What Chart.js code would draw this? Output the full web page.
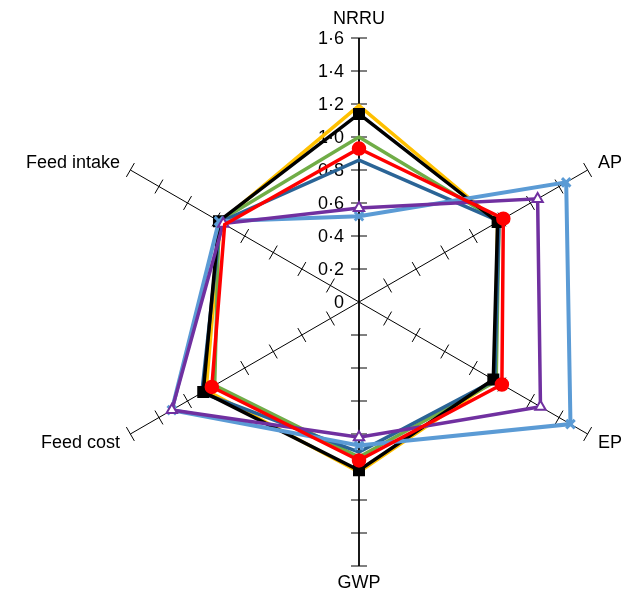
<!DOCTYPE html>
<html>
<head>
<meta charset="utf-8">
<title>Radar chart</title>
<script src="https://cdn.jsdelivr.net/npm/chart.js@4/dist/chart.umd.min.js"></script>
<style>
  html, body { margin: 0; padding: 0; background: #fff; }
  #wrap { width: 630px; height: 594px; position: relative; }
</style>
</head>
<body>
<div id="wrap"><canvas id="radarChart"></canvas></div>
<script>
/* ========= DATA ========= */

const axisLabels = ["NRRU", "AP", "EP", "GWP", "Feed cost", "Feed intake"];
const tickValues = [0, 0.2, 0.4, 0.6, 0.8, 1.0, 1.2, 1.4, 1.6];

const redValues       = [0.93, 1.01, 1.00, 0.96, 1.03, 0.94];
const purpleValues    = [0.57, 1.25, 1.27, 0.82, 1.31, 0.95];
const lightBlueValues = [0.52, 1.45, 1.48, 0.87, 1.31, 0.98];
const blackValues     = [1.14, 0.97, 0.94, 1.02, 1.09, 0.98];
const darkBlueValues  = [0.86, 0.98, 0.95, 0.91, 1.10, 0.97];
const greenValues     = [1.00, 0.98, 0.96, 0.94, 1.01, 0.98];
const yellowValues    = [1.19, 0.97, 0.95, 1.03, 1.07, 0.97];

const FONT = "'Liberation Sans', Arial, Helvetica, sans-serif";

/* ========= SPOKE TICKS, TICK LABELS, AXIS NAMES ========= */

const spokeTicks = {
  id: "spokeTicks",
  beforeDatasetsDraw(chart) {
    const scale = chart.scales.r;
    const ctx = chart.ctx;
    ctx.save();
    ctx.strokeStyle = "#000";
    ctx.lineWidth = 1;
    for (let i = 0; i < axisLabels.length; i++) {
      const a = scale.getIndexAngle(i) - Math.PI / 2;
      const px = -Math.sin(a), py = Math.cos(a);
      tickValues.forEach(v => {
        if (v === 0) return;
        const p = scale.getPointPositionForValue(i, v);
        ctx.beginPath();
        ctx.moveTo(p.x - px * 8, p.y - py * 8);
        ctx.lineTo(p.x + px * 8, p.y + py * 8);
        ctx.stroke();
      });
    }

    ctx.fillStyle = "#000";
    ctx.font = "18px " + FONT;

    // values on the vertical axis
    ctx.textAlign = "right";
    ctx.textBaseline = "middle";
    tickValues.forEach(v => {
      const p = scale.getPointPositionForValue(0, v);
      const txt = v === 0 ? "0" : v.toFixed(1).replace(".", "\u00B7");
      ctx.fillText(txt, p.x - 15, p.y + 1);
    });

    // axis names outside the outer end of each spoke
    axisLabels.forEach((name, i) => {
      const p = scale.getPointPosition(i, scale.drawingArea + 12);
      const deg = Math.round(scale.getIndexAngle(i) * 180 / Math.PI);
      if (deg === 0) {
        ctx.textAlign = "center";
        ctx.textBaseline = "alphabetic";
        ctx.fillText(name, p.x, p.y - 2);
      } else if (deg === 180) {
        ctx.textAlign = "center";
        ctx.textBaseline = "alphabetic";
        ctx.fillText(name, p.x, p.y + 10);
      } else {
        ctx.textAlign = deg < 180 ? "left" : "right";
        ctx.textBaseline = "middle";
        const dy = (deg > 90 && deg < 270) ? 3 : -1;
        ctx.fillText(name, p.x, p.y + dy);
      }
    });
    ctx.restore();
  }
};

/* ========= RADAR ========= */

const radarCtx = document.getElementById("radarChart");

new Chart(radarCtx, {
  type: "radar",
  data: {
    labels: axisLabels,
    datasets: [
      {
        label: "Series 1",
        data: redValues,
        borderColor: "#ff0000",
        backgroundColor: "#ff0000",
        borderWidth: 3.5,
        pointStyle: "circle",
        pointRadius: [5.5, 5.5, 5.5, 5.5, 5.5, 0],
        pointBackgroundColor: "#ff0000",
        fill: false
      },
      {
        label: "Series 2",
        data: purpleValues,
        borderColor: "#7030a0",
        borderWidth: 3.5,
        pointStyle: "triangle",
        pointRadius: 6,
        pointBorderWidth: 2,
        pointBackgroundColor: "#ffffff",
        fill: false
      },
      {
        label: "Series 3",
        data: lightBlueValues,
        borderColor: "#5b9bd5",
        borderWidth: 4,
        pointStyle: "crossRot",
        pointRadius: 6,
        pointBorderWidth: 3,
        fill: false
      },
      {
        label: "Series 4",
        data: blackValues,
        borderColor: "#000000",
        borderWidth: 3.5,
        pointStyle: "rect",
        pointRadius: 6,
        pointBackgroundColor: "#000000",
        fill: false
      },
      {
        label: "Series 5",
        data: darkBlueValues,
        borderColor: "#2a6496",
        borderWidth: 3.5,
        pointRadius: 0,
        fill: false
      },
      {
        label: "Series 6",
        data: greenValues,
        borderColor: "#70ad47",
        borderWidth: 3.5,
        pointRadius: 0,
        fill: false
      },
      {
        label: "Series 7",
        data: yellowValues,
        borderColor: "#ffc000",
        borderWidth: 3.5,
        pointRadius: 0,
        fill: false
      }
    ]
  },
  options: {
    responsive: true,
    maintainAspectRatio: false,
    animation: false,
    layout: { padding: { top: 38, bottom: 28, left: 95, right: 7 } },
    plugins: {
      legend: { display: false },
      tooltip: { enabled: false }
    },
    elements: { line: { tension: 0 } },
    scales: {
      r: {
        min: 0,
        max: 1.6,
        ticks: { stepSize: 0.2, display: false },
        grid: { display: false },
        angleLines: {
          display: true,
          color: "#000",
          lineWidth: c => (c.index === 0 || c.index === 3) ? 1.8 : 1
        },
        pointLabels: { display: false }
      }
    }
  },
  plugins: [spokeTicks]
});
</script>
</body>
</html>
